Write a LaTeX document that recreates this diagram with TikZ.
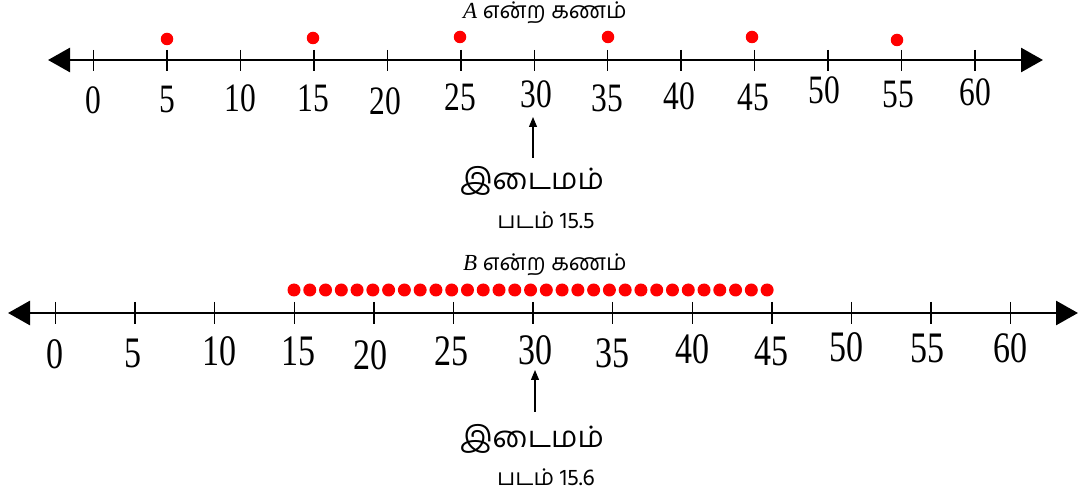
\documentclass[tikz,border=0pt]{standalone}
\usepackage{fontspec}
\setmainfont{Liberation Serif}
\newfontfamily\tamilfont[Script=Tamil]{Hind Madurai}
\usetikzlibrary{arrows.meta}

% digits on the axes are tall and narrow
\newcommand\tallnum[1]{\scalebox{1}[1.28]{#1}}

\begin{document}
\begin{tikzpicture}[x=1pt,y=-1pt,
  axisline/.style={line width=2.8pt,
    {Triangle[length=22pt,width=24pt]}-{Triangle[length=22pt,width=24pt]}},
  tickmark/.style={line width=1.4pt},
  numA/.style={inner sep=0pt, font=\fontsize{31.5}{31.5}\selectfont},
  numB/.style={inner sep=0pt, font=\fontsize{34}{34}\selectfont},
  member/.style={circle, fill=red, inner sep=0pt},
  settitle/.style={inner sep=0pt, font=\tamilfont\fontsize{23}{23}\selectfont},
  medlabel/.style={inner sep=0pt, font=\tamilfont\fontsize{29.5}{29.5}\selectfont},
  figcap/.style={inner sep=0pt, font=\tamilfont\fontsize{23}{23}\selectfont},
  medarrow/.style={line width=1.2pt, -{Triangle[length=10pt,width=8pt]}}]
\useasboundingbox (0,0) rectangle (1080,494);

% ---------- set A ----------
\node[settitle] (titleA) at (545,13) {{\rmfamily\itshape A} என்ற கணம்};
\coordinate (axAl) at (48,60);
\coordinate (axAr) at (1043,60);
\draw[axisline] (axAl) -- (axAr);
\foreach \k/\lx/\ly in {0/93/100,5/167/99,10/240/98,15/313/98,20/385/101,25/460/97,
  30/536/94,35/607/98,40/679/96,45/753/97,50/824/90,55/898/94,60/975/92}{
  \pgfmathsetmacro\tx{93.5+73.46*\k/5}
  \draw[tickmark] (\tx,50) -- (\tx,71);
  \node[numA] (labA\k) at (\lx,\ly) {\tallnum{\k}};
}
\foreach \v/\dx/\dy in {5/167/39,15/313/38,25/460/37,35/608/37,45/752/37,55/897/40}{
  \node[member, minimum size=12.5pt] (ptA\v) at (\dx,\dy) {};
}
\node[medlabel] (medA) at (532,181) {இடைமம்};
\coordinate (medAbase) at (533,158);
\coordinate (medAtip) at (533,117);
\draw[medarrow] (medAbase) -- (medAtip);
\node[figcap] (capA) at (546,220) {படம் 15.5};

% ---------- set B ----------
\node[settitle] (titleB) at (545,265) {{\rmfamily\itshape B} என்ற கணம்};
\coordinate (axBl) at (8,313);
\coordinate (axBr) at (1078,313);
\draw[axisline] (axBl) -- (axBr);
\foreach \k/\lx/\ly in {0/55/354,5/133/353,10/219/351,15/298/351,20/370/355,25/451/351,
  30/535/350,35/612/353,40/692/349,45/771/351,50/846/347,55/927/348,60/1010/348}{
  \pgfmathsetmacro\tx{55.5+79.6*\k/5}
  \draw[tickmark] (\tx,302) -- (\tx,324);
  \node[numB] (labB\k) at (\lx,\ly) {\tallnum{\k}};
}
\foreach \i in {0,...,30}{
  \node[member, minimum size=13pt] (ptB\i) at (294+15.77*\i,290) {};
}
\node[medlabel] (medB) at (532,439) {இடைமம்};
\coordinate (medBbase) at (535,412);
\coordinate (medBtip) at (535,370);
\draw[medarrow] (medBbase) -- (medBtip);
\node[figcap] (capB) at (546,477) {படம் 15.6};
\end{tikzpicture}
\end{document}
